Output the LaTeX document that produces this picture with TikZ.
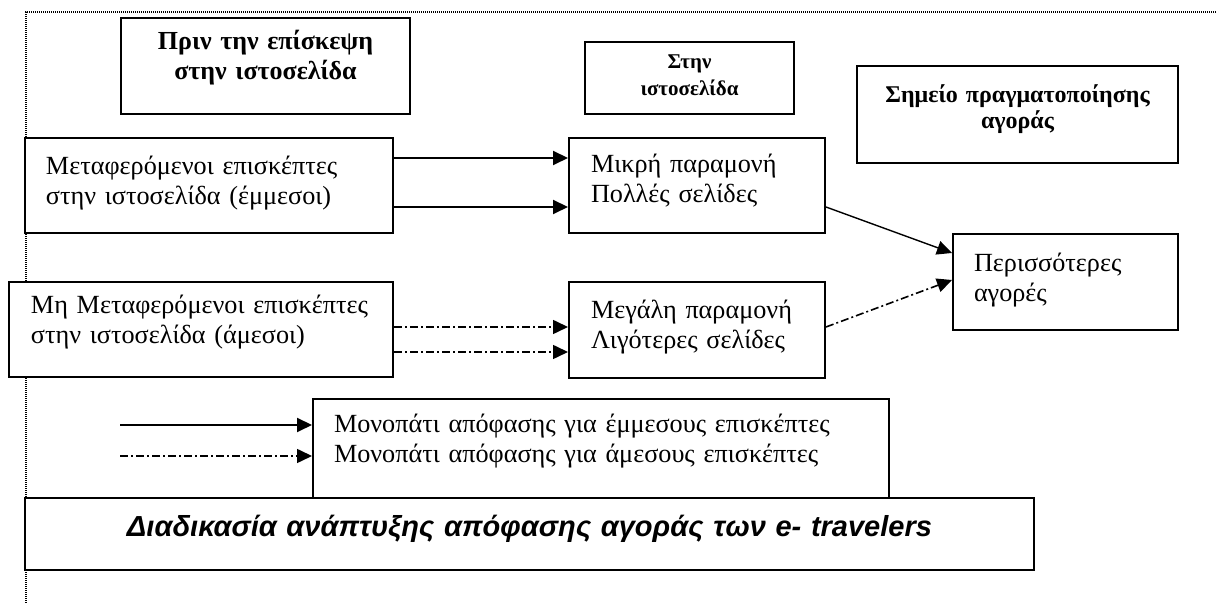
\documentclass[tikz,border=0pt]{standalone}
\usepackage{fontspec}
\setmainfont{Liberation Serif}
\setsansfont{Liberation Sans}
\usetikzlibrary{arrows.meta}
\begin{document}
\begin{tikzpicture}[x=0.5pt, y=-0.5pt, >={Triangle[length=7.5pt,width=7pt]},
  box/.style={draw, line width=1pt, fill=white, inner ysep=0pt, anchor=north west,
    font=\fontsize{13.1pt}{15pt}\selectfont},
  head/.style={box, align=center, inner xsep=0pt, font=\fontsize{13pt}{15pt}\selectfont\bfseries},
  side/.style={box, align=left},
  solidarr/.style={->, line width=1pt},
  dasharr/.style={->, line width=0.8pt, dash pattern=on 4pt off 1.5pt on 1pt off 1.5pt}]
\useasboundingbox (0,0) rectangle (1217,603);
% dotted frame
\draw[line width=1pt, dash pattern=on 0.5pt off 0.5pt] (26,603) -- (26,12) -- (1217,12);

\node[head, text width=144.5pt, text height=16pt, text depth=32pt] (pre) at (120,17) {Πριν την επίσκεψη\\στην ιστοσελίδα};
\node[head, text width=104.5pt, text height=13.5pt, text depth=22.5pt, font=\fontsize{10.5pt}{13.5pt}\selectfont\bfseries] (site) at (584,41) {Στην\\ιστοσελίδα};
\node[head, text width=160.5pt, text height=18.5pt, text depth=30pt, font=\fontsize{12pt}{13pt}\selectfont\bfseries] (point) at (856,65) {Σημείο πραγματοποίησης\\αγοράς};

\node[side, text width=163pt, inner xsep=10.5pt, text height=18.5pt, text depth=29pt] (refvis) at (24,137) {Μεταφερόμενοι επισκέπτες\\στην ιστοσελίδα (έμμεσοι)};
\node[side, text width=170pt, inner xsep=11pt, text height=16pt, text depth=31.5pt] (dirvis) at (8,281) {Μη Μεταφερόμενοι επισκέπτες\\στην ιστοσελίδα (άμεσοι)};
\node[side, text width=106pt, inner xsep=11pt, text height=17.5pt, text depth=30pt] (short) at (568,137) {Μικρή παραμονή\\Πολλές σελίδες};
\node[side, text width=106pt, inner xsep=11pt, text height=18.5pt, text depth=29.5pt] (long) at (568,281) {Μεγάλη παραμονή\\Λιγότερες σελίδες};
\node[side, text width=91.5pt, inner xsep=10.5pt, text height=19pt, text depth=29pt] (more) at (952,233) {Περισσότερες\\αγορές};

\node[side, text width=267pt, inner xsep=10.5pt, text height=17pt, text depth=32.5pt] (legend) at (312,398) {Μονοπάτι απόφασης για έμμεσους επισκέπτες\\Μονοπάτι απόφασης για άμεσους επισκέπτες};
\node[head, text width=504.5pt, text height=19.5pt, text depth=16.5pt, font=\sffamily\fontsize{14.5pt}{16pt}\selectfont\bfseries\itshape] (title) at (24,497) {Διαδικασία ανάπτυξης απόφασης αγοράς των e- travelers};

\draw[solidarr] (refvis.east |- 0,158) -- (short.west |- 0,158);
\draw[solidarr] (refvis.east |- 0,207) -- (short.west |- 0,207);
\draw[dasharr] (dirvis.east |- 0,327) -- (long.west |- 0,327);
\draw[dasharr] (dirvis.east |- 0,352) -- (long.west |- 0,352);
\draw[solidarr, line width=0.7pt] (short.east |- 0,207) -- (more.west |- 0,253);
\draw[dasharr] (long.east |- 0,327) -- (more.west |- 0,280);
% legend
\coordinate (s1) at (120,425);
\coordinate (s2) at (120,456);
\draw[solidarr] (s1) -- (s1 -| legend.west);
\draw[dasharr] (s2) -- (s2 -| legend.west);
\end{tikzpicture}
\end{document}
